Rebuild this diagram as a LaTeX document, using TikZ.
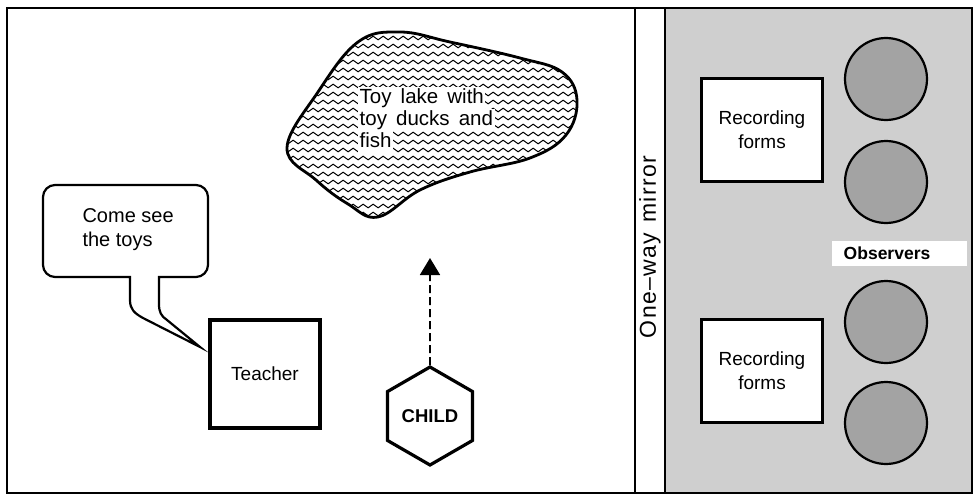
\documentclass[tikz,border=0pt]{standalone}
\usepackage{fontspec}
\setmainfont{Liberation Sans}
\newfontfamily\widefont{Liberation Sans}[WordSpace=1.6]
\newfontfamily\mirrorfont{Liberation Sans}[WordSpace=1.3,LetterSpace=6]
\usetikzlibrary{shapes.geometric,decorations.pathmorphing,arrows.meta}

\tikzset{
  label font/.style={font=\fontsize{19}{24}\selectfont},
  boxed/.style={draw, line width=3.2pt, fill=white, label font, align=center},
  formbox/.style={draw, line width=2.4pt, fill=white, minimum width=121pt, minimum height=103pt, label font, align=center},
  observer/.style={circle, draw, line width=2.2pt, fill=black!36, minimum size=82pt, inner sep=0pt},
  laketext/.style={fill=white, inner xsep=1.5pt, inner ysep=0pt, text height=16pt, text depth=6pt, anchor=west,
                   font=\widefont\fontsize{20.5}{24}\selectfont},
  wave/.style={decorate, decoration={snake, segment length=10pt, amplitude=1.8pt}, line width=1pt},
}

\begin{document}
\begin{tikzpicture}[x=1pt, y=-1pt]
  % page
  \fill[white] (0,0) rectangle (977,495);
  \useasboundingbox (0,0) rectangle (977,495);

  % observation room (stippled)
  \fill[black!19] (665,8) rectangle (972,493);

  % outer walls and mirror
  \draw[line width=2.2pt] (7,8) rectangle (972,493);
  \draw[line width=2.2pt] (635,8) -- (635,493);
  \draw[line width=2.2pt] (665,8) -- (665,493);
  \node[rotate=90, font=\mirrorfont\fontsize{23}{24}\selectfont]
    (mirror) at (650,247) {One–way mirror};

  % toy lake
  \def\lakepath{plot[smooth cycle, tension=0.65] coordinates {
      (287,148) (318,92) (358,42) (400,32) (450,42) (520,58) (562,72)
      (577,100) (566,135) (530,158) (470,172) (420,190) (378,217)
      (348,204) (316,180)}}
  \begin{scope}
    \clip \lakepath;
    \foreach \r in {30,38,...,222} {
      \draw[wave] (270,\r) -- (590,\r);
    }
  \end{scope}
  \draw[line width=2.8pt] \lakepath;
  \node[laketext] (lake1) at (358,98) {Toy lake with};
  \node[laketext] (lake2) at (358,120) {toy ducks and};
  \node[laketext] (lake3) at (358,142) {fish};

  % speech bubble
  \draw[line width=2.2pt, line join=miter]
    (130,277) -- (55,277) .. controls (48.4,277) and (43,271.6) .. (43,265)
    -- (43,197) .. controls (43,190.4) and (48.4,185) .. (55,185)
    -- (196,185) .. controls (202.6,185) and (208,190.4) .. (208,197)
    -- (208,265) .. controls (208,271.6) and (202.6,277) .. (196,277)
    -- (159,277) -- (159,304) .. controls (159,312) and (161,316) .. (167,320)
    -- (200,347) -- (143,318) .. controls (134,313) and (130,309) .. (130,300)
    -- cycle;
  \node[font=\fontsize{20}{24}\selectfont, align=left, anchor=west] (speech) at (79,230) {Come see\\the toys};

  % teacher
  \node[boxed, minimum width=110pt, minimum height=108pt] (teacher) at (265,374) {Teacher};

  % child and line of sight
  \node[regular polygon, regular polygon sides=6, shape border rotate=30,
        draw, line width=3.2pt, minimum size=98pt, inner sep=0pt,
        font=\fontsize{18.5}{20}\selectfont\bfseries] (child) at (430,416) {CHILD};
  \coordinate (look) at (430,258);
  \draw[line width=1.9pt, dash pattern=on 8pt off 4pt,
        -{Triangle[length=17pt, width=20pt]}] (child.north) -- (look);

  % recording forms
  \node[formbox] (forms1) at (762,130) {Recording\\forms};
  \node[formbox] (forms2) at (762,371) {Recording\\forms};

  % observers
  \node[observer] (obs1) at (886,79) {};
  \node[observer] (obs2) at (886,182) {};
  \node[observer] (obs3) at (886,322) {};
  \node[observer] (obs4) at (886,423) {};
  \fill[white] (832,241) rectangle (967,266);
  \node[font=\fontsize{17.5}{20}\selectfont\bfseries] (observers) at (887,253) {Observers};
\end{tikzpicture}
\end{document}
